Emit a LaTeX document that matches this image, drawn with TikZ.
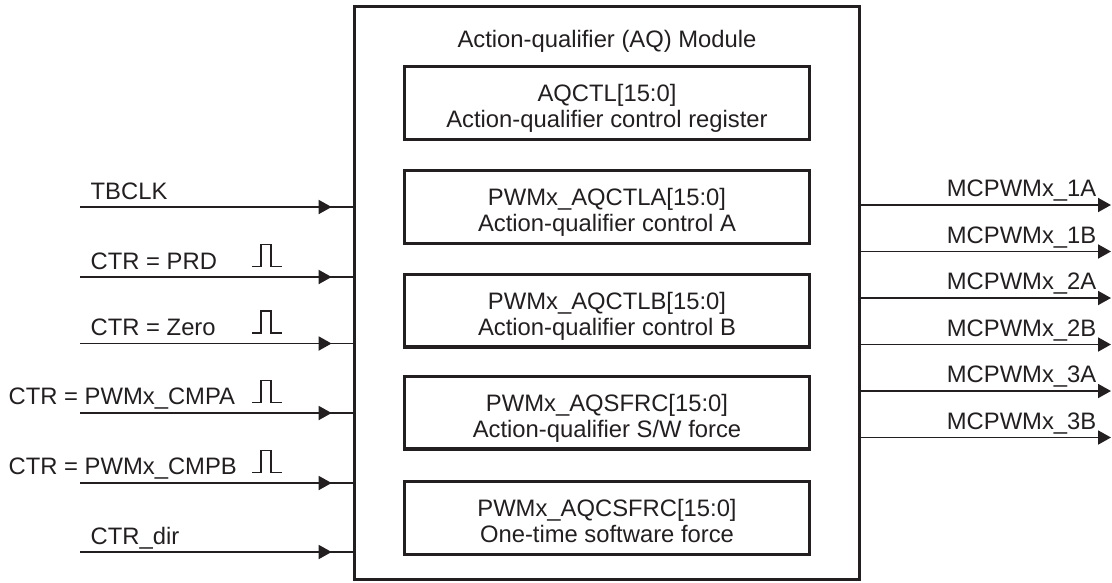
\documentclass[tikz,border=0pt]{standalone}
\usepackage{fontspec}
\setmainfont{Liberation Sans}
\usetikzlibrary{arrows.meta}
\definecolor{ink}{RGB}{35,31,32}
\begin{document}
\begin{tikzpicture}[x=1pt,y=-1pt,
  every node/.style={font=\fontsize{23.8}{26}\selectfont, text=ink, inner sep=0pt},
  frame/.style={draw=ink, line width=3.8pt, minimum width=505pt, minimum height=573pt},
  regbox/.style={draw=ink, line width=3.3pt, minimum width=405pt, minimum height=72.5pt,
    align=center, text height=55pt, text depth=6pt},
  wire/.style={draw=ink, line width=1.9pt},
  tipped/.style={-{Triangle[length=13pt,width=14pt]}},
  midtip/.style={tipped, shorten >=21pt},
  pulse/.pic={\draw[ink, line width=1.3pt]
    (0,0) -- (9,0) -- (9,-22) -- (19,-22) -- (19,0) -- (29.5,0);},
]
\useasboundingbox (0,0) rectangle (1112,582);

% module frame and its title
\node[frame] (aq) at (607,293) {};
\node[anchor=base] (title) at (607,47.3) {Action-qualifier (AQ) Module};

% registers
\node[regbox] (r1) at (607,103)   {AQCTL[15:0]\\Action-qualifier control register};
\node[regbox] (r2) at (607,207)   {PWMx\_AQCTLA[15:0]\\Action-qualifier control A};
\node[regbox] (r3) at (607,310.7) {PWMx\_AQCTLB[15:0]\\Action-qualifier control B};
\node[regbox] (r4) at (607,412.7) {PWMx\_AQSFRC[15:0]\\Action-qualifier S/W force};
\node[regbox] (r5) at (607,518)   {PWMx\_AQCSFRC[15:0]\\One-time software force};

% inputs
\foreach \n/\y in {1/207, 2/277, 3/343.5, 4/413, 5/483, 6/552} {
  \coordinate (i\n) at (80,\y);
  \draw[wire] (i\n) -- (i\n -| aq.west);
  \draw[wire, midtip] (i\n) -- (i\n -| aq.west);
}
\node[anchor=base west] (l1) at (90.5,199)   {TBCLK};
\node[anchor=base west] (l2) at (90.5,269)   {CTR = PRD};
\node[anchor=base west] (l3) at (90.5,335.5) {CTR = Zero};
\node[anchor=base west] (l4) at (8.5,404.5)  {CTR = PWMx\_CMPA};
\node[anchor=base west] (l5) at (8.5,474.5)  {CTR = PWMx\_CMPB};
\node[anchor=base west] (l6) at (90.5,544)   {CTR\_dir};
\foreach \y in {277, 343.5, 413, 483} {
  \pic at (252,\y-10.5) {pulse};
}

% outputs
\foreach \n/\y/\t in {1/205/1A, 2/251.5/1B, 3/298/2A, 4/344.5/2B, 5/391/3A, 6/437.5/3B} {
  \coordinate (o\n) at (1111,\y);
  \draw[wire, tipped] (o\n -| aq.east) -- (o\n);
  \node[anchor=base east] (ol\n) at (1096.5,\y-8.5) {MCPWMx\_\t};
}
\end{tikzpicture}
\end{document}
